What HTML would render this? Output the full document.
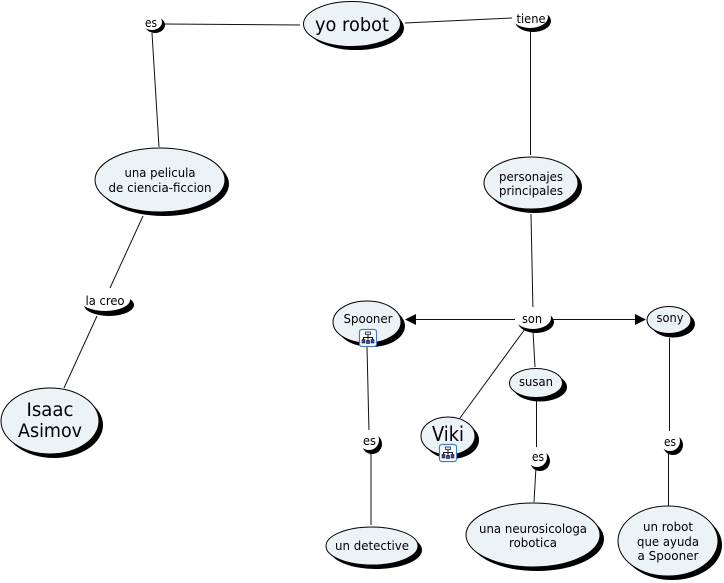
<!DOCTYPE html>
<html>
<head>
<meta charset="utf-8">
<style>
html,body{margin:0;padding:0;background:#fff;width:724px;height:583px;overflow:hidden}
svg{display:block}
text{font-family:"DejaVu Sans","Liberation Sans",sans-serif;fill:#000;text-anchor:middle}
.l{stroke:#111;stroke-width:1;fill:none}
.s{fill:#000}
.n{fill:#ecf3f6;stroke:#000;stroke-width:1}
.w{fill:#fff}
</style>
</head>
<body>
<svg width="724" height="583" viewBox="0 0 724 583" xmlns="http://www.w3.org/2000/svg">
<rect width="724" height="583" fill="#fff"/>
<!-- connectors -->
<line class="l" x1="163" y1="24" x2="300" y2="25"/>
<line class="l" x1="152" y1="33" x2="159" y2="147"/>
<line class="l" x1="405" y1="23" x2="512" y2="18"/>
<line class="l" x1="530.5" y1="30" x2="530.5" y2="155"/>
<line class="l" x1="143" y1="216" x2="110" y2="288"/>
<line class="l" x1="97" y1="316" x2="64" y2="388"/>
<line class="l" x1="531" y1="214" x2="533" y2="312"/>
<line class="l" x1="515" y1="319.5" x2="416" y2="319.5"/>
<polygon class="s" points="405,319.5 416,314 416,325"/>
<line class="l" x1="551" y1="319.5" x2="635" y2="319.5"/>
<polygon class="s" points="646,319.5 635,314 635,325"/>
<line class="l" x1="525" y1="329" x2="460" y2="418"/>
<line class="l" x1="533" y1="331" x2="535" y2="367"/>
<line class="l" x1="536.5" y1="399" x2="536.5" y2="450"/>
<line class="l" x1="536" y1="467" x2="534" y2="502"/>
<line class="l" x1="367" y1="347" x2="369" y2="432"/>
<line class="l" x1="371" y1="452" x2="371" y2="525"/>
<line class="l" x1="669.5" y1="338" x2="669.5" y2="434"/>
<line class="l" x1="668.5" y1="452" x2="668.5" y2="506"/>
<!-- concept shadows & nodes -->
<ellipse class="s" cx="356" cy="28" rx="48" ry="22"/><ellipse class="n" cx="352" cy="24" rx="48.5" ry="22.5"/>
<ellipse class="s" cx="164" cy="184" rx="65" ry="32"/><ellipse class="n" cx="160" cy="180" rx="65" ry="32"/>
<ellipse class="s" cx="54" cy="425" rx="49" ry="33"/><ellipse class="n" cx="50" cy="421" rx="49" ry="33"/>
<ellipse class="s" cx="535" cy="187" rx="47" ry="26"/><ellipse class="n" cx="531" cy="183" rx="47" ry="26"/>
<ellipse class="s" cx="371" cy="326" rx="34" ry="21"/><ellipse class="n" cx="367" cy="322" rx="34" ry="21"/>
<ellipse class="s" cx="540" cy="387" rx="27" ry="14.5"/><ellipse class="n" cx="536" cy="383" rx="26.5" ry="14.5"/>
<ellipse class="s" cx="452" cy="440" rx="27" ry="19"/><ellipse class="n" cx="448" cy="436" rx="27" ry="19"/>
<ellipse class="s" cx="673" cy="324" rx="22" ry="13.5"/><ellipse class="n" cx="669" cy="320" rx="22" ry="13.5"/>
<ellipse class="s" cx="376" cy="550" rx="46" ry="19"/><ellipse class="n" cx="372" cy="546" rx="46" ry="19"/>
<ellipse class="s" cx="537" cy="539" rx="67" ry="32"/><ellipse class="n" cx="533" cy="535" rx="67" ry="32"/>
<ellipse class="s" cx="672" cy="545" rx="50" ry="35"/><ellipse class="n" cx="668" cy="541" rx="50" ry="35"/>
<!-- linking phrase shadows -->
<ellipse class="s" cx="155" cy="25" rx="10" ry="8"/><ellipse class="w" cx="152" cy="22" rx="10" ry="8"/>
<ellipse class="s" cx="109" cy="305" rx="25" ry="11"/><ellipse class="w" cx="105" cy="300" rx="25" ry="11"/>
<ellipse class="s" cx="533" cy="21" rx="18" ry="11"/><ellipse class="w" cx="530" cy="17" rx="18" ry="11"/>
<ellipse class="s" cx="536" cy="322" rx="18" ry="11"/><ellipse class="w" cx="533" cy="318" rx="18" ry="11"/>
<ellipse class="s" cx="372" cy="444" rx="10" ry="10"/><ellipse class="w" cx="369" cy="440" rx="10" ry="10"/>
<ellipse class="s" cx="540" cy="461" rx="10" ry="10"/><ellipse class="w" cx="537" cy="457" rx="10" ry="10"/>
<ellipse class="s" cx="673" cy="445" rx="10" ry="10"/><ellipse class="w" cx="670" cy="441" rx="10" ry="10"/>
<!-- labels -->
<g font-size="19">
<text x="352" y="31" textLength="74" lengthAdjust="spacingAndGlyphs">yo robot</text>
<text x="50" y="416" textLength="47" lengthAdjust="spacingAndGlyphs">Isaac</text>
<text x="50" y="437" textLength="64" lengthAdjust="spacingAndGlyphs">Asimov</text>
<text x="448" y="441" font-size="20" textLength="32" lengthAdjust="spacingAndGlyphs">Viki</text>
</g>
<g font-size="12">
<text x="151" y="27" textLength="12" lengthAdjust="spacingAndGlyphs">es</text>
<text x="160" y="177" textLength="71" lengthAdjust="spacingAndGlyphs">una pelicula</text>
<text x="160" y="192" textLength="103" lengthAdjust="spacingAndGlyphs">de ciencia-ficcion</text>
<text x="105" y="305" textLength="39" lengthAdjust="spacingAndGlyphs">la creo</text>
<text x="531" y="23" textLength="29" lengthAdjust="spacingAndGlyphs">tiene</text>
<text x="531" y="181" textLength="64" lengthAdjust="spacingAndGlyphs">personajes</text>
<text x="531" y="195" textLength="64" lengthAdjust="spacingAndGlyphs">principales</text>
<text x="368" y="323" textLength="49" lengthAdjust="spacingAndGlyphs">Spooner</text>
<text x="532" y="323" textLength="20" lengthAdjust="spacingAndGlyphs">son</text>
<text x="670" y="322" textLength="27" lengthAdjust="spacingAndGlyphs">sony</text>
<text x="536" y="386" textLength="34" lengthAdjust="spacingAndGlyphs">susan</text>
<text x="369.500" y="445" textLength="13" lengthAdjust="spacingAndGlyphs">es</text>
<text x="538" y="461" textLength="12" lengthAdjust="spacingAndGlyphs">es</text>
<text x="670" y="446" textLength="12" lengthAdjust="spacingAndGlyphs">es</text>
<text x="372" y="550" textLength="74" lengthAdjust="spacingAndGlyphs">un detective</text>
<text x="533" y="533" textLength="108" lengthAdjust="spacingAndGlyphs">una neurosicologa</text>
<text x="533" y="547" textLength="48" lengthAdjust="spacingAndGlyphs">robotica</text>
<text x="668" y="531" textLength="50" lengthAdjust="spacingAndGlyphs">un robot</text>
<text x="668" y="546" textLength="62" lengthAdjust="spacingAndGlyphs">que ayuda</text>
<text x="668" y="560" textLength="61" lengthAdjust="spacingAndGlyphs">a Spooner</text>
</g>
<!-- icons -->
<g transform="translate(359.500,329.500)">
<rect x="0" y="0" width="17" height="17" rx="2.500" fill="#fff" stroke="#3f7fc4" stroke-width="1.200"/>
<path d="M8.500 5V8M4 10V8H13V10M8.500 8V11" stroke="#112" fill="none" stroke-width="1"/>
<rect x="6" y="2.500" width="5" height="2.500" fill="#dfe6ff" stroke="#224" stroke-width=".8"/>
<rect x="2.500" y="10" width="3" height="3.500" fill="#3a4fb0" stroke="#112" stroke-width=".6"/>
<rect x="7" y="11" width="3" height="3" fill="#3a4fb0" stroke="#112" stroke-width=".6"/>
<rect x="11.500" y="10" width="3" height="3.500" fill="#3a4fb0" stroke="#112" stroke-width=".6"/>
</g>
<g transform="translate(439.500,444.500)">
<rect x="0" y="0" width="17" height="17" rx="2.500" fill="#fff" stroke="#3f7fc4" stroke-width="1.200"/>
<path d="M8.500 5V8M4 10V8H13V10M8.500 8V11" stroke="#112" fill="none" stroke-width="1"/>
<rect x="6" y="2.500" width="5" height="2.500" fill="#dfe6ff" stroke="#224" stroke-width=".8"/>
<rect x="2.500" y="10" width="3" height="3.500" fill="#3a4fb0" stroke="#112" stroke-width=".6"/>
<rect x="7" y="11" width="3" height="3" fill="#3a4fb0" stroke="#112" stroke-width=".6"/>
<rect x="11.500" y="10" width="3" height="3.500" fill="#3a4fb0" stroke="#112" stroke-width=".6"/>
</g>
</svg>
</body>
</html>
